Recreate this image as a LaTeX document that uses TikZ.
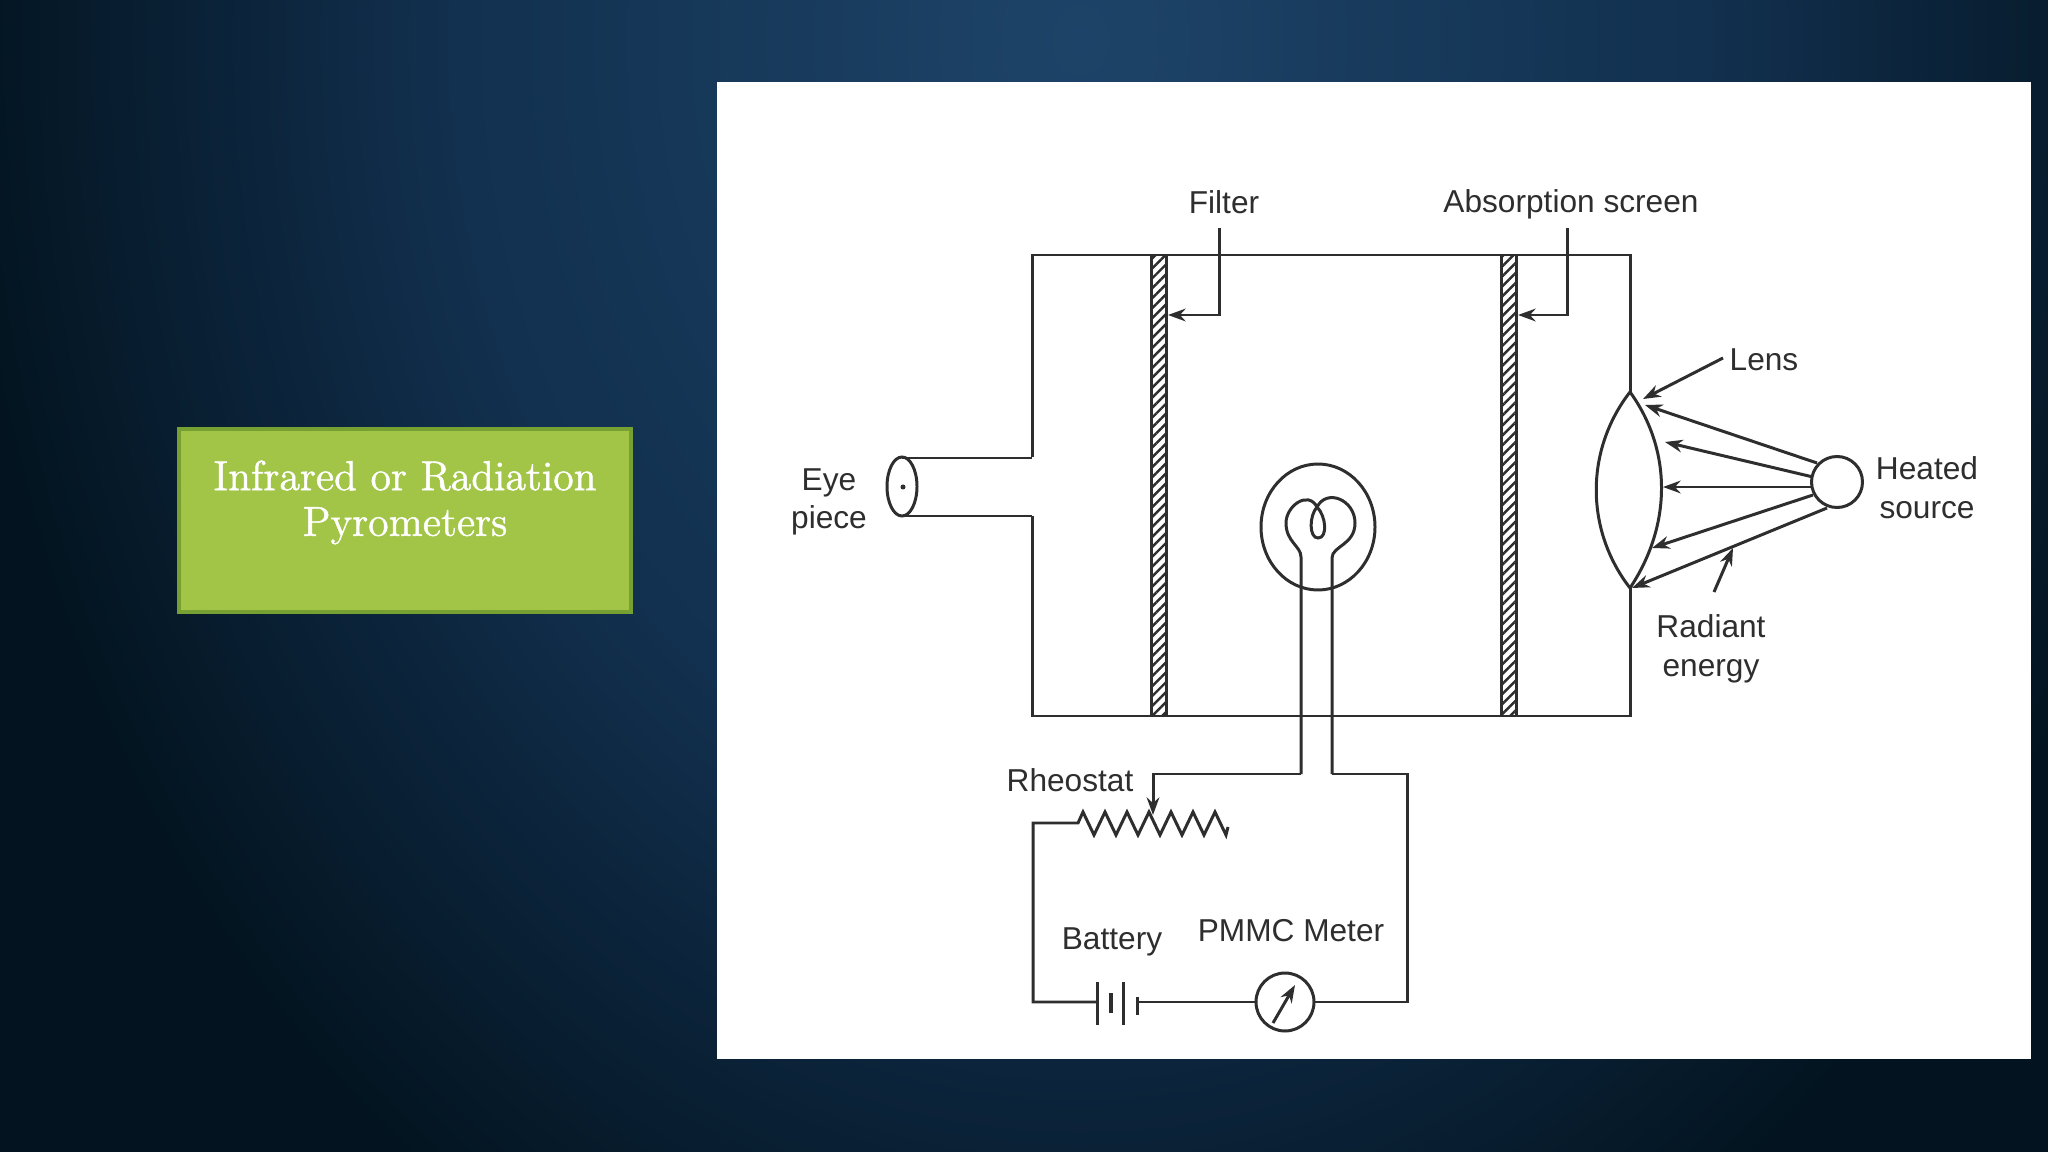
\documentclass[tikz,border=0pt]{standalone}
\usepackage{fontspec}
\setmainfont{Latin Modern Roman}
\setsansfont{Liberation Sans}
\usetikzlibrary{arrows.meta,patterns.meta}
\definecolor{slidedark}{HTML}{031420}
\definecolor{slidemid}{HTML}{12304F}
\definecolor{slideglow}{HTML}{1D4468}
\definecolor{boxgreen}{HTML}{A2C547}
\definecolor{boxedge}{HTML}{76A032}
\definecolor{inkline}{HTML}{2E2E2E}
\pgfdeclareradialshading{slidelight}{\pgfpointorigin}{color(0bp)=(slideglow); color(14bp)=(slidemid); color(25bp)=(slidedark); color(50bp)=(slidedark)}
\tikzset{
	wire/.style={line width=0.85pt, color=inkline},
	pointer/.style={wire, -{Stealth[length=5pt,width=3.6pt]}},
	lbl/.style={font=\sffamily\fontsize{9}{11}\selectfont, text=inkline, inner sep=0pt, align=center},
	hatched/.style={draw=inkline, line width=0.85pt, pattern={Lines[angle=45,distance=2pt,line width=0.7pt]}, pattern color=inkline}
}

\begin{document}
\begin{tikzpicture}[x=0.01cm, y=-0.01cm]
			\useasboundingbox (0, 0) rectangle (2048, 1152);
			%%%%% BACKGROUND %%%%%
			\fill[slidedark] (0, 0) rectangle (2048, 1152);
			\begin{scope}
				\clip (0, 0) rectangle (2048, 1152);
				\shade[shading=slidelight] (1080, 40) ellipse (1120 and 1400);
			\end{scope}
			\fill[white] (717, 82) rectangle (2031, 1059);
			
			\node[draw=boxedge, line width=1pt, fill=boxgreen, minimum width=452*0.01cm, minimum height=183*0.01cm, inner sep=0pt] (titlebox) at (405, 520.5) {};
			\node[font=\fontsize{11.9}{13}\selectfont\addfontfeature{FakeBold=1.2}, text=white, align=center, inner sep=0pt] (title) at (405, 502.5) {Infrared or Radiation\\Pyrometers};
			
			%%%%% HOUSING %%%%%
			\draw[wire] (1032, 457) -- (1032, 255) -- (1630, 255) -- (1630, 392);
			\draw[wire] (1032, 516) -- (1032, 716) -- (1630, 716) -- (1630, 588);
			\draw[wire] (902, 458) -- (1032, 458);
			\draw[wire] (902, 516) -- (1032, 516);
			\draw[wire] (902, 486.5) ellipse (15 and 29.5);
			\fill[inkline] (903, 487) circle (2.5);
			
			\draw[hatched] (1151, 255) rectangle (1166, 716);
			\draw[hatched] (1501, 255) rectangle (1516, 716);
			
			\draw[pointer] (1219, 228) -- (1219, 315) -- (1168, 315);
			\draw[pointer] (1567, 228) -- (1567, 315) -- (1518, 315);
			
			%%%%% LAMP %%%%%
			\draw[wire] (1318, 527) ellipse (57 and 63);
			\draw[wire] (1301, 774) -- (1301, 557) .. controls (1301, 546) and (1286, 542) .. (1286, 523)
				.. controls (1286, 506) and (1308, 490) .. (1317, 507)
				.. controls (1309, 516) and (1309, 538) .. (1318, 538)
				.. controls (1328, 538) and (1326, 516) .. (1317, 507)
				.. controls (1327, 488) and (1355, 500) .. (1355, 523)
				.. controls (1355, 545) and (1332, 546) .. (1332, 558) -- (1332, 774);
			
			%%%%% LENS AND SOURCE %%%%%
			\draw[wire] (1630, 392) .. controls (1585, 450) and (1585, 530) .. (1630, 588);
			\draw[wire] (1630, 392) .. controls (1672, 450) and (1672, 525) .. (1630, 588);
			\node[draw=inkline, line width=0.85pt, circle, minimum size=51*0.01cm, inner sep=0pt] (source) at (1837, 482) {};
			\draw[pointer] (1817, 463) -- (1645, 405);
			\draw[pointer] (1813, 477) -- (1665, 442);
			\draw[pointer] (1813, 487) -- (1663, 487);
			\draw[pointer] (1813, 495) -- (1652, 548);
			\draw[pointer] (1827, 508) -- (1632, 588);
			\draw[pointer] (1723, 358) -- (1643, 399);
			\draw[pointer] (1714, 592) -- (1733, 548);
			
			%%%%% CIRCUIT %%%%%
			\draw[pointer] (1301, 774) -- (1153, 774) -- (1153, 815);
			\draw[wire] (1332, 774) -- (1407, 774) -- (1407, 1002) -- (1314, 1002);
			\draw[wire] (1097, 1002) -- (1033, 1002) -- (1033, 823) -- (1078, 823)
				\foreach \i in {0,...,6} { -- (1083+22*\i, 812) -- (1094+22*\i, 835) } -- (1228, 827);
			
			\draw[wire] (1097, 982) -- (1097, 1025);
			\draw[wire, line width=1.2pt] (1111, 993) -- (1111, 1013);
			\draw[wire] (1123, 982) -- (1123, 1025);
			\draw[wire] (1137, 997) -- (1137, 1015);
			\draw[wire] (1137, 1002) -- (1256, 1002);
			
			\node[draw=inkline, line width=0.85pt, circle, minimum size=58*0.01cm, inner sep=0pt] (meter) at (1285, 1002) {};
			\draw[pointer] (1273, 1023) -- (1295, 985);
			
			%%%%% LABELS %%%%%
			\node[lbl] (filter) at (1224, 202) {Filter};
			\node[lbl] (screen) at (1571, 204.5) {Absorption screen};
			\node[lbl] (eye) at (829, 502) {Eye\\piece};
			\node[lbl] (lens) at (1764, 360) {Lens};
			\node[lbl] (heated) at (1927, 488) {Heated\\source};
			\node[lbl] (radiant) at (1711, 649) {Radiant\\energy};
			\node[lbl] (rheostat) at (1070, 780) {Rheostat};
			\node[lbl] (battery) at (1112, 942) {Battery};
			\node[lbl] (pmmc) at (1291, 931) {PMMC Meter};
		\end{tikzpicture}
\end{document}
